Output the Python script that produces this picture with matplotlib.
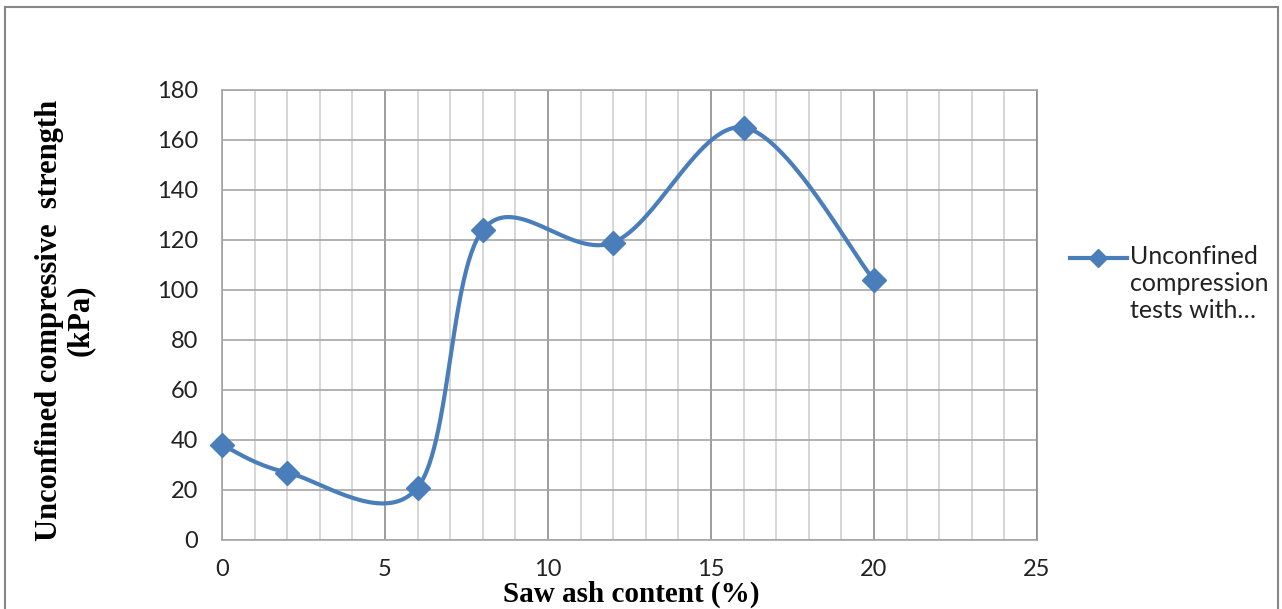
import numpy as np
import matplotlib
matplotlib.use("Agg")
import matplotlib.pyplot as plt
from matplotlib.patches import Rectangle
from matplotlib.lines import Line2D

# data
ash_content = [0, 2, 6, 8, 12, 16, 20]
ucs_kpa = [38, 27, 21, 124, 119, 165, 104]
series_name = "Unconfined\ncompression\ntests with…"
x_ticks = [0, 5, 10, 15, 20, 25]
y_ticks = [0, 20, 40, 60, 80, 100, 120, 140, 160, 180]

LINE_BLUE = "#4A7EBB"
TICK_FONT = "Lato"
LABEL_FONT = "Liberation Serif"
W, H = 1282, 609


def smooth_curve(xs, ys, n=60):
    # Excel-style smoothed line: cubic bezier with catmull-rom control points
    px = np.asarray(xs, float)
    py = np.asarray(ys, float)
    out_x, out_y = [], []
    t = np.linspace(0, 1, n)
    for i in range(len(px) - 1):
        i0 = max(i - 1, 0)
        i3 = min(i + 2, len(px) - 1)
        c1x = px[i] + (px[i + 1] - px[i0]) / 6
        c1y = py[i] + (py[i + 1] - py[i0]) / 6
        c2x = px[i + 1] - (px[i3] - px[i]) / 6
        c2y = py[i + 1] - (py[i3] - py[i]) / 6
        b0, b1, b2, b3 = (1 - t) ** 3, 3 * (1 - t) ** 2 * t, 3 * (1 - t) * t ** 2, t ** 3
        out_x.append(b0 * px[i] + b1 * c1x + b2 * c2x + b3 * px[i + 1])
        out_y.append(b0 * py[i] + b1 * c1y + b2 * c2y + b3 * py[i + 1])
    return np.concatenate(out_x), np.concatenate(out_y)


fig = plt.figure(figsize=(W / 100, H / 100), dpi=100)
ax = fig.add_axes([222 / W, 1 - 540 / H, (1037 - 222) / W, (540 - 90) / H])

# outer chart frame
fig.patches.append(Rectangle((5 / W, -0.05), 1273 / W, 1.05 - 7 / H,
                             transform=fig.transFigure, fill=False,
                             edgecolor="#868686", linewidth=1.5))

ax.set_xlim(0, 25)
ax.set_ylim(0, 180)
ax.set_xticks(x_ticks)
ax.set_xticks(np.arange(0, 26, 1), minor=True)
ax.set_yticks(y_ticks)
ax.grid(which="minor", axis="x", color="#cfcfcf", linewidth=1.2)
ax.grid(which="major", axis="x", color="#8c8c8c", linewidth=1.2)
ax.grid(which="major", axis="y", color="#a6a6a6", linewidth=1.2)
ax.set_axisbelow(True)
for s in ax.spines.values():
    s.set_color("#a6a6a6")
    s.set_linewidth(1.2)
ax.spines["right"].set_color("#8c8c8c")
ax.tick_params(which="both", length=0)
ax.tick_params(axis="x", pad=14)
ax.tick_params(axis="y", pad=17)
for lab in ax.get_xticklabels() + ax.get_yticklabels():
    lab.set_fontfamily(TICK_FONT)
    lab.set_fontsize(17)
    lab.set_color("#222222")

cx, cy = smooth_curve(ash_content, ucs_kpa)
ax.plot(cx, cy, color=LINE_BLUE, linewidth=3.0, solid_capstyle="round", zorder=3)
ax.plot(ash_content, ucs_kpa, linestyle="none", marker="D", markersize=12,
        color=LINE_BLUE, zorder=4, clip_on=False)

fig.text(631 / W, 1 - 594 / H, "Saw ash content (%)", fontfamily=LABEL_FONT,
         fontweight="bold", fontsize=21, ha="center", va="center")
fig.text(65 / W, 1 - 320 / H, "Unconfined compressive  strength\n(kPa)",
         fontfamily=LABEL_FONT, fontweight="bold", fontsize=22, rotation=90,
         ha="center", va="center", multialignment="center", linespacing=1.05)

# legend: handle lined up with the first text line, as in the reference
fig.add_artist(Line2D([1070 / W, 1127 / W], [1 - 258 / H, 1 - 258 / H],
                      transform=fig.transFigure, color=LINE_BLUE, linewidth=3.0))
fig.add_artist(Line2D([1098 / W], [1 - 258 / H], transform=fig.transFigure,
                      color=LINE_BLUE, marker="D", markersize=9))
fig.text(1130 / W, 1 - 245 / H, series_name, fontfamily=TICK_FONT, fontsize=18,
         color="#222222", ha="left", va="top", linespacing=1.2)

fig.savefig("out.png", dpi=100)
